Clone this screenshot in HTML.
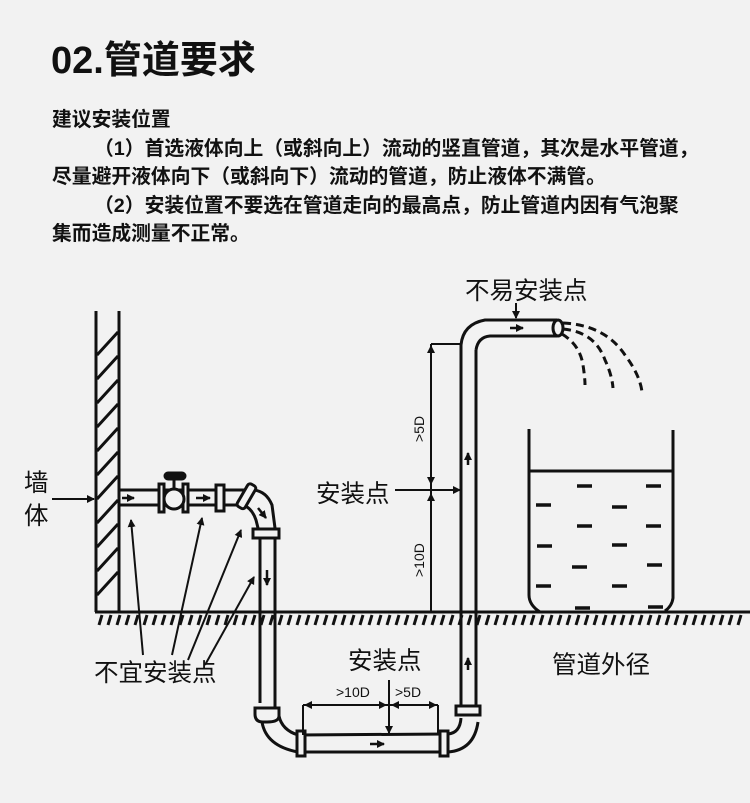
<!DOCTYPE html>
<html><head><meta charset="utf-8"><style>
body{margin:0;background:#f2f2f2;width:750px;height:803px;overflow:hidden;position:relative;font-family:"Liberation Sans","Noto Sans CJK SC",sans-serif;color:#111}
.t{position:absolute;left:51px;top:29px;font-size:38px;font-weight:bold;letter-spacing:0px}
.b{position:absolute;left:52px;top:106px;font-size:19.8px;font-weight:bold;line-height:28.6px;width:700px}
.b p{margin:0;white-space:nowrap}
svg{position:absolute;left:0;top:0}
</style></head><body>
<div class="t">02.管道要求</div>
<div class="b"><p>建议安装位置</p><p style="padding-left:42px">（1）首选液体向上（或斜向上）流动的竖直管道，其次是水平管道，</p><p>尽量避开液体向下（或斜向下）流动的管道，防止液体不满管。</p><p style="padding-left:42px">（2）安装位置不要选在管道走向的最高点，防止管道内因有气泡聚</p><p>集而造成测量不正常。</p></div>
<svg width="750" height="803" viewBox="0 0 750 803" font-family="Liberation Sans,Noto Sans CJK SC,sans-serif">
<defs><marker id="a" markerWidth="8" markerHeight="8" refX="7" refY="4" orient="auto" markerUnits="userSpaceOnUse"><path d="M0,0 L8,4 L0,8 z" fill="#111"/></marker></defs>
<g stroke="#111" stroke-width="3" fill="none">
<line x1="96" y1="311" x2="96" y2="612"/><line x1="119" y1="311" x2="119" y2="612"/>
<g stroke-width="3">
<line x1="97" y1="355" x2="118" y2="332"/><line x1="97" y1="379" x2="118" y2="356"/><line x1="97" y1="403" x2="118" y2="380"/><line x1="97" y1="427" x2="118" y2="404"/><line x1="97" y1="451" x2="118" y2="428"/><line x1="97" y1="475" x2="118" y2="452"/><line x1="97" y1="499" x2="118" y2="476"/><line x1="97" y1="523" x2="118" y2="500"/><line x1="97" y1="547" x2="118" y2="524"/><line x1="97" y1="571" x2="118" y2="548"/><line x1="97" y1="595" x2="118" y2="572"/>
</g>
<line x1="95" y1="612" x2="750" y2="612"/>
<path stroke-width="3" d="M102,615l-3,10 M111,615l-3,10 M120,615l-3,10 M129,615l-3,10 M138,615l-3,10 M147,615l-3,10 M156,615l-3,10 M165,615l-3,10 M174,615l-3,10 M183,615l-3,10 M192,615l-3,10 M201,615l-3,10 M210,615l-3,10 M219,615l-3,10 M228,615l-3,10 M237,615l-3,10 M246,615l-3,10 M255,615l-3,10 M264,615l-3,10 M273,615l-3,10 M282,615l-3,10 M291,615l-3,10 M300,615l-3,10 M309,615l-3,10 M318,615l-3,10 M327,615l-3,10 M336,615l-3,10 M345,615l-3,10 M354,615l-3,10 M363,615l-3,10 M372,615l-3,10 M381,615l-3,10 M390,615l-3,10 M399,615l-3,10 M408,615l-3,10 M417,615l-3,10 M426,615l-3,10 M435,615l-3,10 M444,615l-3,10 M453,615l-3,10 M462,615l-3,10 M471,615l-3,10 M480,615l-3,10 M489,615l-3,10 M498,615l-3,10 M507,615l-3,10 M516,615l-3,10 M525,615l-3,10 M534,615l-3,10 M543,615l-3,10 M552,615l-3,10 M561,615l-3,10 M570,615l-3,10 M579,615l-3,10 M588,615l-3,10 M597,615l-3,10 M606,615l-3,10 M615,615l-3,10 M624,615l-3,10 M633,615l-3,10 M642,615l-3,10 M651,615l-3,10 M660,615l-3,10 M669,615l-3,10 M678,615l-3,10 M687,615l-3,10 M696,615l-3,10 M705,615l-3,10 M714,615l-3,10 M723,615l-3,10 M732,615l-3,10 M741,615l-3,10"/>
<line x1="119" y1="490" x2="247" y2="490"/><line x1="119" y1="505" x2="243" y2="505"/>
<rect x="159" y="484" width="5" height="28" fill="#f2f2f2"/><rect x="183" y="484" width="5" height="28" fill="#f2f2f2"/>
<circle cx="174" cy="499" r="10" fill="#f2f2f2"/>
<line x1="174" y1="480" x2="174" y2="488"/><rect x="165" y="473" width="20" height="6" rx="3" fill="#111"/>
<rect x="216" y="485" width="8" height="26" fill="#f2f2f2"/>
<path d="M247,490 Q265,488 272,505 L275,528 M243,505 Q252,508 256,520 L258,528"/>
<rect x="242" y="483" width="9" height="26" rx="3" transform="rotate(30 246 496)" fill="#f2f2f2"/>
<rect x="253" y="529" width="26" height="9" fill="#f2f2f2"/>
<line x1="260" y1="538" x2="260" y2="703"/><line x1="275" y1="538" x2="275" y2="708"/>
<path d="M255,708 h24 v8 q0,6 -12,6 h-4 q-8,0 -8,-8z" fill="#f2f2f2"/>
<path d="M262,722 Q266,746 298,752 M279,716 Q282,730 298,735"/>
<line x1="298" y1="735" x2="447" y2="734"/><line x1="298" y1="752" x2="447" y2="752"/>
<rect x="297" y="731" width="8" height="25" fill="#f2f2f2"/><rect x="440" y="731" width="8" height="25" fill="#f2f2f2"/>
<path d="M448,734 Q460,733 461,718 M448,752 Q474,750 478,722"/>
<rect x="456" y="706" width="24" height="9" fill="#f2f2f2"/>
<line x1="461" y1="706" x2="461" y2="345"/><line x1="476" y1="706" x2="476" y2="350"/>
<path d="M461,345 Q463,324 485,320 L557,320 M476,350 Q478,337 490,336 L557,336"/>
<ellipse cx="558" cy="328" rx="5" ry="8" fill="#f2f2f2"/>
<g stroke-dasharray="8,5" stroke-width="3">
<path d="M563,323 Q605,325 625,355 Q640,375 642,392"/>
<path d="M563,329 Q595,332 605,360 Q612,375 613,388"/>
<path d="M562,334 Q580,345 583,365 Q585,378 585,385"/>
</g>
<path d="M529,429 V595 Q529,605 540,612 M673,430 V598 Q672,606 665,611"/>
<line x1="530" y1="471" x2="672" y2="471"/>
<g stroke-width="3.5">
<path d="M577,486h15 M646,486h15 M536,505h15 M612,507h15 M577,526h15 M646,526h15 M537,546h15 M612,545h15 M572,567h15 M647,565h15 M536,586h15 M612,586h15 M575,608h15 M648,607h15"/>
</g>
<g stroke-width="2">
<line x1="431" y1="344" x2="461" y2="344"/>
<line x1="431" y1="344" x2="431" y2="612"/>
<line x1="395" y1="490" x2="460" y2="490" marker-end="url(#a)"/>
<line x1="431" y1="480" x2="431" y2="484" marker-end="url(#a)"/>
<line x1="431" y1="352" x2="431" y2="346" marker-end="url(#a)"/>
<line x1="431" y1="500" x2="431" y2="494" marker-end="url(#a)"/>
<line x1="303" y1="705" x2="303" y2="735"/>
<line x1="438" y1="705" x2="438" y2="735"/>
<line x1="303" y1="705" x2="438" y2="705"/>
<line x1="313" y1="705" x2="305" y2="705" marker-end="url(#a)"/>
<line x1="380" y1="705" x2="386" y2="705" marker-end="url(#a)"/>
<line x1="398" y1="705" x2="392" y2="705" marker-end="url(#a)"/>
<line x1="428" y1="705" x2="436" y2="705" marker-end="url(#a)"/>
<line x1="389" y1="680" x2="389" y2="733" marker-end="url(#a)"/>
<line x1="516" y1="303" x2="516" y2="318" marker-end="url(#a)"/>
<line x1="52" y1="499" x2="94" y2="499" marker-end="url(#a)"/>
<line x1="143" y1="655" x2="131" y2="520" marker-end="url(#a)"/>
<line x1="172" y1="655" x2="202" y2="518" marker-end="url(#a)"/>
<line x1="188" y1="660" x2="241" y2="530" marker-end="url(#a)"/>
<line x1="205" y1="665" x2="254" y2="577" marker-end="url(#a)"/>
</g>
<g stroke-width="2.5">
<line x1="122" y1="498" x2="134" y2="498" marker-end="url(#a)"/>
<line x1="196" y1="498" x2="210" y2="498" marker-end="url(#a)"/>
<line x1="258" y1="508" x2="266" y2="518" marker-end="url(#a)"/>
<line x1="267" y1="570" x2="267" y2="585" marker-end="url(#a)"/>
<line x1="370" y1="744" x2="384" y2="744" marker-end="url(#a)"/>
<line x1="468" y1="670" x2="468" y2="658" marker-end="url(#a)"/>
<line x1="468" y1="465" x2="468" y2="453" marker-end="url(#a)"/>
<line x1="510" y1="328" x2="523" y2="328" marker-end="url(#a)"/>
</g>
</g>
<g fill="#111" font-size="24.5">
<text x="24" y="491">墙</text><text x="24" y="524">体</text>
<text x="316" y="502">安装点</text>
<text x="94" y="681">不宜安装点</text>
<text x="348" y="669">安装点</text>
<text x="552" y="673">管道外径</text>
<text x="465" y="299">不易安装点</text>
<text x="336" y="697" font-size="14">&gt;10D</text>
<text x="395" y="697" font-size="14">&gt;5D</text>
<text transform="translate(424,442) rotate(-90)" font-size="14">&gt;5D</text>
<text transform="translate(424,577) rotate(-90)" font-size="14">&gt;10D</text>
</g>
</svg>
</body></html>
